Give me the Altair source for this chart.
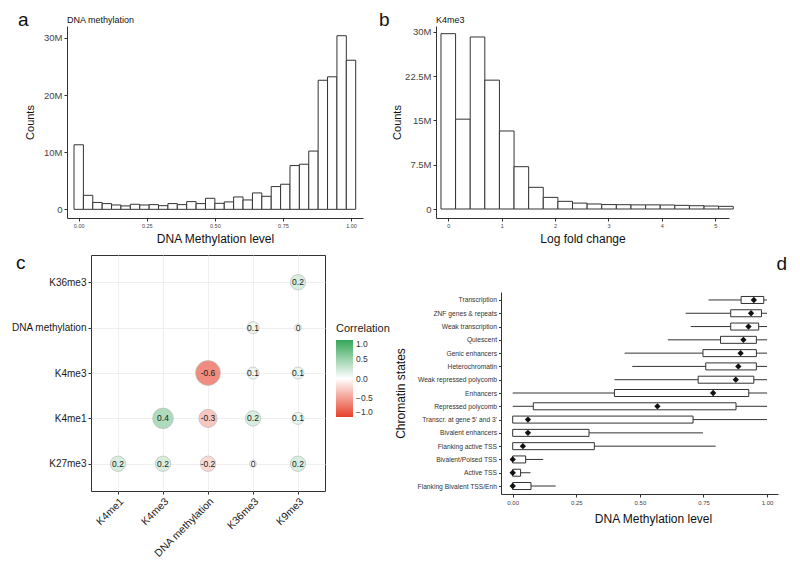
import altair as alt
import pandas as pd

FONT = "Liberation Sans"
DARK = "#333333"

# ---------------- panel a : DNA methylation histogram ----------------
a_counts_M = [11.3, 2.45, 1.2, 1.0, 0.76, 0.6, 0.88, 0.76, 0.82, 0.64,
              1.0, 0.82, 1.35, 1.0, 1.93, 1.05, 1.3, 2.16, 1.64, 2.87,
              2.28, 3.98, 4.39, 7.66, 7.9, 10.2, 22.6, 23.2, 30.4, 26.1]
a_bin_width = 1 / 29
a_ticks = [0, 0.25, 0.5, 0.75, 1.0]
a_yticks = [0, 10e6, 20e6, 30e6]

# ---------------- panel b : K4me3 log fold change histogram ----------------
b_counts_M = [29.66, 15.2, 29.1, 21.8, 13.2, 7.16, 3.67, 1.97, 1.3, 1.0,
              0.85, 0.75, 0.73, 0.7, 0.7, 0.68, 0.62, 0.56, 0.5, 0.45]
b_bin_width = 0.2737
b_ticks = [0, 1, 2, 3, 4, 5]
b_yticks = [0, 7.5e6, 15e6, 22.5e6, 30e6]

# ---------------- panel c : correlation matrix ----------------
c_cols = ["K4me1", "K4me3", "DNA methylation", "K36me3", "K9me3"]
c_rows = ["K36me3", "DNA methylation", "K4me3", "K4me1", "K27me3"]
c_row_of = ["K36me3", "DNA methylation", "DNA methylation", "K4me3", "K4me3", "K4me3",
            "K4me1", "K4me1", "K4me1", "K4me1",
            "K27me3", "K27me3", "K27me3", "K27me3", "K27me3"]
c_col_of = ["K9me3", "K36me3", "K9me3", "DNA methylation", "K36me3", "K9me3",
            "K4me3", "DNA methylation", "K36me3", "K9me3",
            "K4me1", "K4me3", "DNA methylation", "K36me3", "K9me3"]
c_corr = [0.2, 0.1, 0.0, -0.6, 0.1, 0.1,
          0.4, -0.3, 0.2, 0.1,
          0.2, 0.2, -0.2, 0.0, 0.2]

# ---------------- panel d : chromatin states box plots ----------------
d_states = ["Transcription", "ZNF genes & repeats", "Weak transcription", "Quiescent",
            "Genic enhancers", "Heterochromatin", "Weak repressed polycomb", "Enhancers",
            "Repressed polycomb", "Transcr. at gene 5' and 3'", "Bivalent enhancers",
            "Flanking active TSS", "Bivalent/Poised TSS", "Active TSS",
            "Flanking Bivalent TSS/Enh"]
d_low = [0.77, 0.68, 0.70, 0.61, 0.44, 0.47, 0.40, 0.0, 0.0, 0.0, 0.0, 0.0, 0.0, 0.0, 0.0]
d_q1 = [0.898, 0.857, 0.857, 0.817, 0.748, 0.759, 0.729, 0.40, 0.081, 0.0, 0.0, 0.0, 0.0, 0.0, 0.0]
d_q3 = [0.987, 0.978, 0.967, 0.958, 0.958, 0.958, 0.948, 0.928, 0.878, 0.709, 0.30, 0.321, 0.051, 0.031, 0.072]
d_high = [1.0, 1.0, 1.0, 1.0, 1.0, 1.0, 1.0, 1.0, 1.0, 1.0, 0.748, 0.798, 0.12, 0.07, 0.169]
d_mean = [0.948, 0.937, 0.927, 0.907, 0.896, 0.887, 0.877, 0.788, 0.569, 0.06, 0.06, 0.04, 0.0, 0.0, 0.0]
d_ticks = [0, 0.25, 0.5, 0.75, 1.0]

# ======================================================================
LETTER = dict(fontSize=19, fontWeight="normal", color="#111111", anchor="start",
              frame="group", baseline="alphabetic", font=FONT)


def spacer(w, letter=None, dx=0, dy=0, offset=2):
    ch = alt.Chart(pd.DataFrame({"s": [0]})).mark_point(size=0, opacity=0).encode(
        x=alt.value(w / 2), y=alt.value(0.5))
    props = dict(width=w, height=1, view=alt.ViewBackground(stroke=None, fill=None))
    if letter:
        props["title"] = alt.TitleParams(letter, dx=dx, dy=dy, offset=offset, **LETTER)
    return ch.properties(**props)


def millions_expr():
    return "datum.value == 0 ? '0' : (datum.value / 1e6) + 'M'"


# ---- a
a_df = pd.DataFrame({
    "lo": [i * a_bin_width - a_bin_width / 2 for i in range(len(a_counts_M))],
    "hi": [i * a_bin_width + a_bin_width / 2 for i in range(len(a_counts_M))],
    "n": [v * 1e6 for v in a_counts_M],
})
chart_a = alt.Chart(a_df).mark_bar(fill="white", stroke=DARK, strokeWidth=1).encode(
    x=alt.X("lo:Q", scale=alt.Scale(domain=[-0.043, 1.044], nice=False, zero=False),
            axis=alt.Axis(values=a_ticks, format=".2f", title="DNA Methylation level",
                          labelFontSize=5.5, tickSize=3, labelPadding=2,
                          titleFontSize=12, titlePadding=5)),
    x2="hi:Q",
    y=alt.Y("n:Q", scale=alt.Scale(domain=[-1.52e6, 32.1e6], nice=False, zero=False),
            axis=alt.Axis(values=a_yticks, labelExpr=millions_expr(), title="Counts",
                          labelFontSize=9.5, tickSize=3, labelPadding=2,
                          titleFontSize=11, titlePadding=8)),
    y2=alt.datum(0),
).properties(width=296, height=192,
             title=alt.TitleParams("DNA methylation", anchor="start", frame="group",
                                   fontSize=9, fontWeight="normal", baseline="alphabetic",
                                   offset=4, dy=10, color="#111111"))

# ---- b
b_df = pd.DataFrame({
    "blo": [i * b_bin_width - b_bin_width / 2 for i in range(len(b_counts_M))],
    "bhi": [i * b_bin_width + b_bin_width / 2 for i in range(len(b_counts_M))],
    "bn": [v * 1e6 for v in b_counts_M],
})
chart_b = alt.Chart(b_df).mark_bar(fill="white", stroke=DARK, strokeWidth=1).encode(
    x=alt.X("blo:Q", scale=alt.Scale(domain=[-0.23, 5.257], nice=False, zero=False),
            axis=alt.Axis(values=b_ticks, format="d", title="Log fold change",
                          labelFontSize=5.5, tickSize=3, labelPadding=2,
                          titleFontSize=12, titlePadding=5)),
    x2="bhi:Q",
    y=alt.Y("bn:Q", scale=alt.Scale(domain=[-1.52e6, 30.96e6], nice=False, zero=False),
            axis=alt.Axis(values=b_yticks, labelExpr=millions_expr(), title="Counts",
                          labelFontSize=9.5, tickSize=3, labelPadding=2,
                          titleFontSize=11, titlePadding=2)),
    y2=alt.datum(0),
).properties(width=293, height=192,
             title=alt.TitleParams("K4me3", anchor="start", frame="group",
                                   fontSize=9, fontWeight="normal", baseline="alphabetic",
                                   offset=4, dy=10, color="#111111"))

# ---- c
c_df = pd.DataFrame({"row": c_row_of, "col": c_col_of, "r": c_corr})
c_df["mag"] = c_df["r"].abs()
c_df["lab"] = c_df["r"].map(lambda v: "0" if v == 0 else f"{v:g}")

cx = alt.X("col:N", sort=c_cols, scale=alt.Scale(type="point", padding=0.6),
           axis=alt.Axis(title=None, grid=True, gridColor="#ebebeb", gridWidth=0.8,
                         domain=False, labelAngle=-45, labelFontSize=10.5,
                         labelColor="#1a1a1a", tickSize=3, labelPadding=2))
cy = alt.Y("row:N", sort=c_rows, scale=alt.Scale(type="point", padding=0.6),
           axis=alt.Axis(title=None, grid=True, gridColor="#ebebeb", gridWidth=0.8,
                         domain=False, labelFontSize=10, labelColor="#1a1a1a",
                         tickSize=3, labelPadding=2))

c_points = alt.Chart(c_df).mark_point(filled=True, shape="circle", opacity=1,
                                      stroke="#b5b5b5", strokeWidth=0.6).encode(
    x=cx, y=cy,
    color=alt.Color("r:Q",
                    scale=alt.Scale(domain=[-1, 0, 1], range=["#E8412C", "#FFFFFF", "#36A659"],
                                    interpolate="rgb"),
                    legend=alt.Legend(title="Correlation", orient="none", legendX=245, legendY=68,
                                      direction="vertical", gradientLength=77,
                                      gradientThickness=17, values=[1, 0.5, 0, -0.5, -1],
                                      format=".1f", labelFontSize=8.5, labelColor="#333333",
                                      titleFontSize=11, titleFontWeight="normal",
                                      titleColor="#1a1a1a", titlePadding=6,
                                      gradientStrokeWidth=0, labelOffset=3)),
    size=alt.Size("mag:Q", scale=alt.Scale(domain=[0, 0.6], range=[50, 616]), legend=None),
)
c_text = alt.Chart(c_df).mark_text(fontSize=8.5, color="#1a1a1a").encode(
    x=cx, y=cy, text="lab:N")
chart_c = alt.layer(c_points, c_text).properties(
    width=234, height=236, view=alt.ViewBackground(stroke=DARK, strokeWidth=1))

# ---- d
d_df = pd.DataFrame({"state": d_states, "low": d_low, "q1": d_q1, "q3": d_q3,
                     "high": d_high, "mean": d_mean})
dy_enc = alt.Y("state:N", sort=d_states,
               scale=alt.Scale(type="point", domain=d_states, range=[37, 239], padding=0.6),
               axis=alt.Axis(title="Chromatin states", labelFontSize=6.7, tickSize=2.5,
                             labelPadding=2, titleFontSize=12, titlePadding=9,
                             labelColor="#333333"))
dx_scale = alt.Scale(domain=[-0.046, 1.043], nice=False, zero=False)
dx_axis = alt.Axis(values=d_ticks, format=".2f", title="DNA Methylation level",
                   labelFontSize=6, tickSize=3, labelPadding=2, titleFontSize=12,
                   titlePadding=8, titleX=152)

d_whisk = alt.Chart(d_df).mark_rule(color=DARK, strokeWidth=1).encode(
    x=alt.X("low:Q", scale=dx_scale, axis=dx_axis), x2="high:Q", y=dy_enc)
d_box = alt.Chart(d_df).mark_bar(fill="white", stroke=DARK, strokeWidth=1, size=7).encode(
    x=alt.X("q1:Q", scale=dx_scale, axis=dx_axis), x2="q3:Q", y=dy_enc)
d_dot = alt.Chart(d_df).mark_point(shape="diamond", filled=True, opacity=1,
                                   color="#111111", size=40).encode(
    x=alt.X("mean:Q", scale=dx_scale, axis=dx_axis), y=dy_enc)
chart_d = alt.layer(d_whisk, d_box, d_dot).properties(
    width=277, height=239,
    title=alt.TitleParams("d", anchor="end", frame="group", fontSize=19, fontWeight="normal",
                          baseline="alphabetic", offset=2, dx=9, dy=36, color="#111111"))

# ---- assemble
RES = dict(x="independent", y="independent", color="independent", size="independent")
row1 = alt.hconcat(spacer(59, "a", dx=10, dy=21), chart_a, spacer(73, "b", dx=16, dy=21), chart_b,
                   spacing=0, bounds="flush").resolve_scale(**RES)
row2 = alt.hconcat(spacer(83, "c", dx=8, dy=35), chart_c, spacer(176), chart_d,
                   spacing=0, bounds="flush").resolve_scale(**RES)

chart = alt.vconcat(row1, row2, spacing=9,
                    padding={"top": 3, "left": 0, "right": 0, "bottom": 0}
).resolve_scale(**RES
).configure(font=FONT, background="white"
).configure_view(stroke=None
).configure_axis(domainColor=DARK, tickColor=DARK, labelColor="#444444", titleColor="#111111",
                 titleFontWeight="normal", grid=False, domainWidth=1, tickWidth=1,
                 labelFont=FONT, titleFont=FONT
).configure_title(font=FONT)

chart.save("out.html", embed_options={"renderer": "svg", "actions": False})
